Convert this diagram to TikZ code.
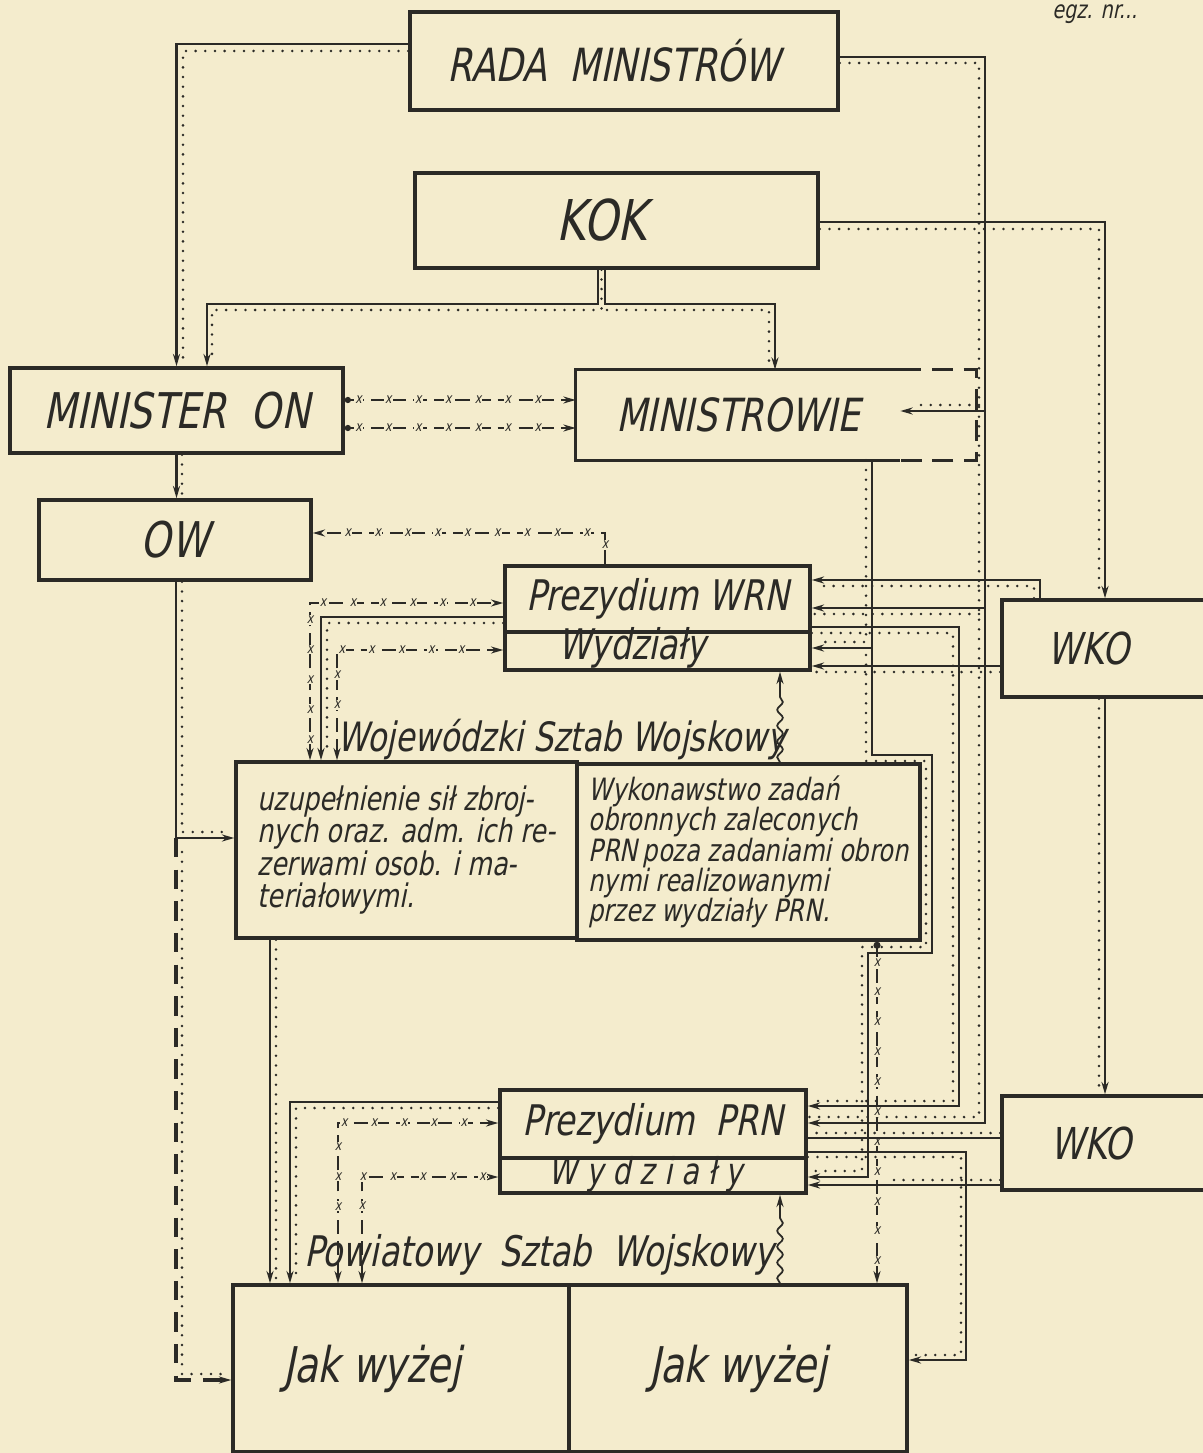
\documentclass[tikz,border=0pt]{standalone}
\usepackage{fontspec}
\newfontfamily\hand{DejaVu Sans}[FakeStretch=0.78,FakeSlant=0.2]
\usepackage{tikz}
\usetikzlibrary{
  arrows.meta,
  decorations.pathmorphing,
  decorations.markings,
}
\definecolor{paper}{HTML}{F4ECCD}
\definecolor{ink}{HTML}{2B2A26}
\newcommand{\fsz}[1]{\hand\fontsize{#1}{#1}\selectfont}

\begin{document}
\begin{tikzpicture}[
  x=0.2mm, y=-0.2mm,
  >={Stealth[length=7pt,width=4pt]},
  box/.style={
    draw=ink, line width=2pt, inner sep=0pt, text=ink,
  },
  part/.style={box, text height=14pt, text depth=4pt},
  lbl/.style={inner sep=0pt, text=ink},
  frame/.style={draw=ink, line width=2pt},
  con/.style={draw=ink, line width=1.2pt},
  dots/.style={
    draw=ink, line width=1.6pt, line cap=round, dash pattern=on 0pt off 5.5pt,
  },
  xmark/.style={inner sep=0.6pt, fill=paper, text=ink, font=\fsz{8}},
  xdash/.style={
    draw=ink, line width=1pt, dash pattern=on 8pt off 4pt,
    postaction={decorate, decoration={markings,
      mark=between positions #1 and 0.94 step 17pt with {\node[xmark] {x};}}},
  },
  xdash/.default=0.06,
  ldash/.style={draw=ink, line width=1.8pt, dash pattern=on 11pt off 7pt},
  wavy/.style={
    draw=ink, line width=1pt, decorate,
    decoration={snake, amplitude=1.6pt, segment length=9pt, post length=10pt},
  },
]
  \fill[paper] (0,0) rectangle (1203,1453);
  \useasboundingbox (0,0) rectangle (1203,1453);

  % boxes
  \node[box, minimum width=85.6mm, minimum height=19.6mm, font=\fsz{26}]
    (rada) at (624,61) {RADA\ \ MINISTRÓW\hspace*{4mm}};
  \node[box, minimum width=80.6mm, minimum height=19mm, font=\fsz{32}]
    (kok) at (616.5,220.5) {KOK\hspace*{6mm}};
  \node[box, minimum width=66.6mm, minimum height=17mm, font=\fsz{28}]
    (minon) at (176.5,410.5) {MINISTER\ \ ON};
  \node[lbl, minimum width=64.8mm, minimum height=18mm, font=\fsz{26}]
    (minrow) at (738,415) {MINISTROWIE};
  \node[box, minimum width=54.4mm, minimum height=16mm, font=\fsz{28}]
    (ow) at (175,540) {OW};
  \node[box, minimum width=61mm, minimum height=13.2mm, font=\fsz{24}]
    (wrn) at (657.5,599) {Prezydium WRN};
  \node[part, minimum width=61mm, minimum height=7.6mm, font=\fsz{24}]
    (wrnw) at (657.5,651) {Wydziały\hspace*{10mm}};
  \node[box, minimum width=42.6mm, minimum height=19.4mm, font=\fsz{25}]
    (wko1) at (1108.5,648.5) {WKO\hspace*{8mm}};
  \node[lbl, font=\fsz{23}] (wswlbl) at (562,740) {Wojewódzki Sztab Wojskowy};
  \node[box, minimum width=68.2mm, minimum height=35.2mm, align=left,
    font=\hand\fontsize{18.5}{18.4}\selectfont] (wsw) at (406.5,850)
    {uzupełnienie sił zbroj-\\nych oraz. adm. ich re-\\zerwami osob. i ma-\\teriałowymi.};
  \node[box, minimum width=68.6mm, minimum height=35.2mm, align=left,
    font=\hand\fontsize{17.5}{17.2}\selectfont] (wswr) at (748.5,852)
    {Wykonawstwo zadań\\obronnych zaleconych\\PRN\,poza zadaniami obron\\nymi realizowanymi\\przez wydziały PRN.};
  \node[box, minimum width=61.2mm, minimum height=13.6mm, font=\fsz{24}]
    (prn) at (653,1124) {Prezydium\ \ PRN};
  \node[part, minimum width=61.2mm, minimum height=7mm, font=\fsz{21}]
    (prnw) at (653,1175.5) {W y d z i a ł y\hspace*{3mm}};
  \node[box, minimum width=42.6mm, minimum height=18.8mm, font=\fsz{25}]
    (wko2) at (1108.5,1143) {WKO\hspace*{7mm}};
  \node[lbl, font=\fsz{24}] (pswlbl) at (539,1255) {Powiatowy\ \ Sztab\ \ Wojskowy};
  \node[box, minimum width=67.2mm, minimum height=33.4mm, font=\fsz{28}]
    (pswl) at (401,1368.5) {Jak wyżej\hspace*{11.6mm}};
  \node[box, minimum width=67.6mm, minimum height=33.4mm, font=\fsz{28}]
    (pswr) at (738,1368.5) {Jak wyżej};
  \node[lbl, font=\fsz{14}, anchor=base west] (egz) at (1052,19) {egz. nr...};

  % Ministrowie frame, dashed part on the right
  \draw[frame] (minrow.north east) -- (minrow.north west)
    -- (minrow.south west) -- (minrow.south east);
  \draw[frame, dash pattern=on 12pt off 6pt]
    (minrow.north east) -- ++(76,0) |- (minrow.south east);

  % Rada Ministrow
  \draw[con,->] (rada.west |- 0,44) -| (minon.north);
  \draw[dots] (rada.west |- 0,51) -| (183,362);
  \draw[con,->] (rada.east |- 0,57) -| (985,1123) -- (prn.east |- 0,1123);
  \draw[dots] (rada.east |- 0,63) -| (979,1117) -- (prn.east |- 0,1117);
  \coordinate (jmin) at (985,411);
  \coordinate (jwrn) at (985,608);
  \draw[con,->] (jmin) -- (minrow.east |- jmin);
  \draw[dots] (979,405) -- (916,405);
  \draw[con,->] (jwrn) -- (wrn.east |- jwrn);
  \draw[dots] (979,614) -- (wrn.east |- 0,614);

  % KOK
  \draw[con,->] (kok.south -| 598,0) |- (207,304) -- (minon.north -| 207,0);
  \draw[dots] (kok.south -| 601.5,0) |- (212,310) -- (212,362);
  \draw[con,->] (kok.south -| 605,0) |- (775,304) -- (minrow.north -| 775,0);
  \draw[dots] (607,310) -| (769,364);
  \draw[con,->] (kok.east |- 0,222) -| (wko1.north -| 1105,0);
  \draw[dots] (kok.east |- 0,229) -| (1099,594);
  \draw[con,->] (wko1.south -| 1105,0) -- (wko2.north -| 1105,0);
  \draw[dots] (wko1.south -| 1099,0) -- (1099,1090);

  % Minister ON
  \draw[xdash,{Circle[length=3.5pt]}->] (minon.east |- 0,400) -- (minrow.west |- 0,400);
  \draw[xdash,{Circle[length=3.5pt]}->] (minon.east |- 0,428) -- (minrow.west |- 0,428);
  \draw[con,->] (minon.south) -- (minon.south |- ow.north);
  \draw[dots] (minon.south -| 182,0) -- (182,494);

  % OW
  \coordinate (jow) at (176,838);
  \draw[con,->] (ow.south -| 176,0) |- (wsw.west |- jow);
  \draw[dots] (ow.south -| 182,0) |- (228,832);
  \draw[ldash,->] (jow) |- (pswl.west |- 0,1380);
  \draw[dots] (182,852) |- (225,1374);

  % Prezydium WRN
  \draw[xdash,->] (wrn.north -| 605,0) |- (ow.east |- 0,533);
  \draw[con,->] (wko1.north -| 1040,0) |- (wrn.east |- 0,580);
  \draw[dots] (wko1.north -| 1034,0) |- (816,586);
  \draw[con,->] (wrn.east |- 0,627) -| (959,1106) -- (prn.east |- 0,1106);
  \draw[dots] (wrnw.east |- 0,633) -| (953,1101) -- (812,1101);
  \coordinate (jw) at (872,648);
  \draw[con,->] (minrow.south -| 872,0) -- (jw) -- (wrnw.east |- jw);
  \draw[dots] (minrow.south -| 866,0) |- (816,642);
  \draw[con,->] (jw) -- (872,755) -| (932,953) -| (868,1177) -- (prnw.east |- 0,1177);
  \draw[dots] (866,655) -- (866,761) -| (926,947) -| (862,1171) -- (812,1171);
  \draw[con,->] (wko1.west |- 0,666) -- (wrnw.east |- 0,666);
  \draw[dots] (wko1.west |- 0,672) -- (816,672);

  % Wojewodzki Sztab Wojskowy
  \draw[xdash,<->] (wsw.north -| 310,0) |- (wrn.west |- 0,603);
  \draw[con,->] (wrn.west |- 0,617) -| (wsw.north -| 321,0);
  \draw[dots] (wrn.west |- 0,623) -| (327,756);
  \draw[xdash=0.2,<->] (wsw.north -| 337,0) |- (wrnw.west |- 0,650);
  \draw[wavy,->] (wswr.north -| 780,0) -- (wrnw.south -| 780,0);
  \draw[xdash,{Circle[length=4pt]}->] (wswr.south -| 877,0) -- (pswr.north -| 877,0);
  \draw[con,->] (wsw.south -| 270,0) -- (pswl.north -| 270,0);
  \draw[dots] (wsw.south -| 276,0) -- (276,1279);

  % Prezydium PRN
  \draw[con] (wko2.west |- 0,1138) -- (prn.east |- 0,1138);
  \draw[dots] (wko2.west |- 0,1133) -- (812,1133);
  \draw[con,->] (prn.east |- 0,1152) -| (966,1360) -- (pswr.east |- 0,1360);
  \draw[dots] (prn.east |- 0,1157) -| (961,1355) -- (913,1355);
  \draw[con,->] (wko2.west |- 0,1185) -- (prnw.east |- 0,1185);
  \draw[dots] (wko2.west |- 0,1180) -- (890,1180);
  \draw[con,->] (prn.west |- 0,1102) -| (pswl.north -| 290,0);
  \draw[dots] (prn.west |- 0,1108) -| (296,1279);
  \draw[xdash=0.24,<->] (pswl.north -| 338,0) |- (prn.west |- 0,1123);
  \draw[xdash=0.32,<->] (pswl.north -| 362,0) |- (prnw.west |- 0,1177);
  \draw[wavy,->] (pswr.north -| 780,0) -- (prnw.south -| 780,0);
\end{tikzpicture}
\end{document}
